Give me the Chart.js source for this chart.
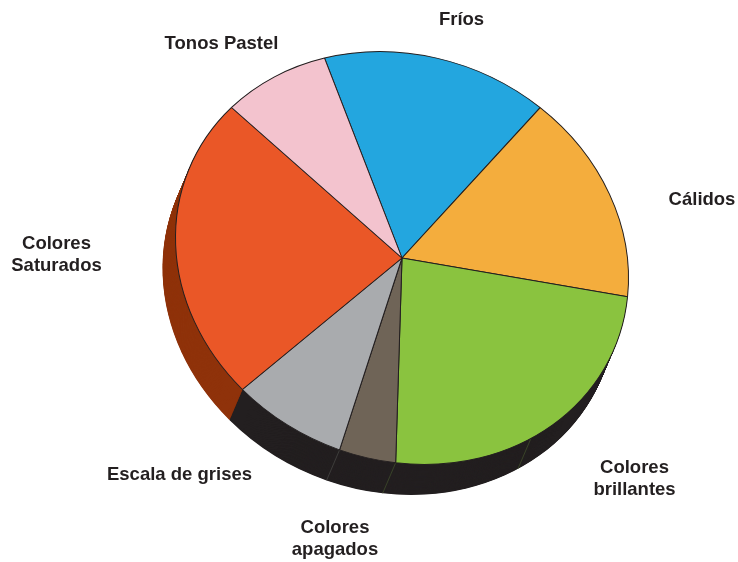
<!DOCTYPE html>
<html>
<head>
<meta charset="utf-8">
<style>
  html, body { margin: 0; padding: 0; background: #fff; }
  #wrap { width: 738px; height: 562px; }
</style>
<script src="https://cdn.jsdelivr.net/npm/chart.js@4/dist/chart.umd.min.js"></script>
</head>
<body>
<div id="wrap"><canvas id="pie"></canvas></div>
<script>
// Palette shares per group, clockwise from the "Fríos" wedge
const categories = ['Fríos', 'Cálidos', 'Colores brillantes', 'Colores apagados', 'Escala de grises', 'Colores Saturados', 'Tonos Pastel'];
const shares = [16, 16, 24, 4, 8, 24, 8];

const faceColors = ['#23a6df', '#f4ad3d', '#8ac33f', '#6f6457', '#a9abae', '#ea5727', '#f3c3ce'];
const sideColors = ['#231f20', '#231f20', '#231f20', '#231f20', '#231f20', '#8f320a', '#231f20'];

// Wrapped label text and the place each block is centred on
const labelLines = [['Fríos'], ['Cálidos'], ['Colores', 'brillantes'], ['Colores', 'apagados'], ['Escala de grises'], ['Colores', 'Saturados'], ['Tonos Pastel']];
const labelCentres = [[461.5, 20], [702, 200], [634.5, 468], [335, 528], [179.5, 475], [56.5, 244], [221.5, 44]];

// The disc is a circle seen at an angle: x stays, y picks up some of x and is squashed
const SKEW_Y = 0.0894;
const SQUASH_Y = 0.907;
const DEPTH_X = -13;         // extrusion direction
const DEPTH_Y = 30.5;
const DEPTH_STEPS = 64;
const GREEN_SEAM_AT = 0.58;  // extra side seam, as a fraction along the green wedge
const SEAM_DARK = '#4a4a48';
const SEAM_GREEN = '#44532c';

function sectorPath(ctx, a) {
  ctx.beginPath();
  ctx.moveTo(a.x, a.y);
  ctx.arc(a.x, a.y, a.outerRadius, a.startAngle, a.endAngle);
  ctx.closePath();
}

function applyTilt(ctx, cx, cy, dx, dy) {
  ctx.translate(cx + dx, cy + dy);
  ctx.transform(1, SKEW_Y, 0, SQUASH_Y, 0, 0);
  ctx.translate(-cx, -cy);
}

// Tilts the disc and stamps the extruded rim underneath it
const tiltedDisc = {
  id: 'tiltedDisc',
  beforeDatasetsDraw(chart) {
    const ctx = chart.ctx;
    const arcs = chart.getDatasetMeta(0).data;
    const cx = arcs[0].x, cy = arcs[0].y, r = arcs[0].outerRadius;

    ctx.save();
    for (let s = DEPTH_STEPS; s >= 1; s--) {
      const f = s / DEPTH_STEPS;
      ctx.save();
      applyTilt(ctx, cx, cy, DEPTH_X * f, DEPTH_Y * f);
      arcs.forEach((arc, i) => {
        ctx.fillStyle = sideColors[i];
        sectorPath(ctx, arc);
        ctx.fill();
      });
      ctx.restore();
    }

    // Faint seams across the rim
    const seam = (angle, color) => {
      const u = r * Math.cos(angle), v = r * Math.sin(angle);
      const x0 = cx + u;
      const y0 = cy + SKEW_Y * u + SQUASH_Y * v;
      ctx.strokeStyle = color;
      ctx.lineWidth = 0.7;
      ctx.beginPath();
      ctx.moveTo(x0, y0);
      ctx.lineTo(x0 + DEPTH_X, y0 + DEPTH_Y);
      ctx.stroke();
    };
    arcs.forEach((arc, i) => {
      if (i === 2) {
        seam(arc.startAngle + (arc.endAngle - arc.startAngle) * GREEN_SEAM_AT, SEAM_GREEN);
        seam(arc.endAngle, SEAM_GREEN);
      }
      if (i === 3) seam(arc.endAngle, SEAM_DARK);
    });
    ctx.restore();

    ctx.save();
    applyTilt(ctx, cx, cy, 0, 0);
  },
  afterDatasetsDraw(chart) {
    chart.ctx.restore();
  }
};

// Wedge names set outside the disc
const outerLabels = {
  id: 'outerLabels',
  afterDraw(chart) {
    const ctx = chart.ctx;
    ctx.save();
    ctx.font = 'bold 18.5px "Liberation Sans", Arial, sans-serif';
    ctx.fillStyle = '#231f20';
    ctx.textAlign = 'center';
    ctx.textBaseline = 'middle';
    labelLines.forEach((lines, i) => {
      lines.forEach((line, j) => {
        ctx.fillText(line, labelCentres[i][0], labelCentres[i][1] + j * 22);
      });
    });
    ctx.restore();
  }
};

new Chart(document.getElementById('pie'), {
  type: 'pie',
  data: {
    labels: categories,
    datasets: [{
      data: shares,
      backgroundColor: faceColors,
      borderColor: '#231f20',
      borderWidth: 1,
      hoverOffset: 0
    }]
  },
  options: {
    responsive: true,
    maintainAspectRatio: false,
    animation: false,
    rotation: -20,
    layout: { padding: { left: 175, right: 109, top: 31, bottom: 77 } },
    plugins: { legend: { display: false }, tooltip: { enabled: false } }
  },
  plugins: [tiltedDisc, outerLabels]
});
</script>
</body>
</html>
